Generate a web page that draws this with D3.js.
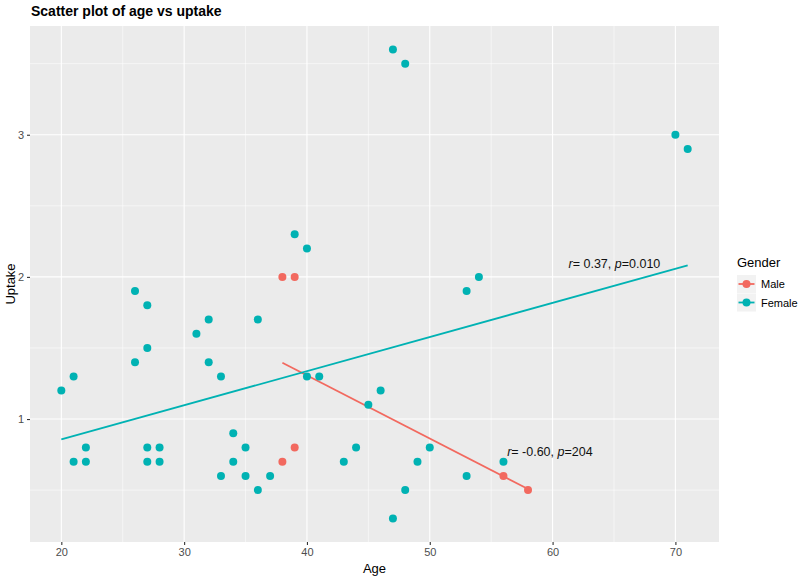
<!doctype html>
<html lang=en>
<head>
  <meta charset=utf-8>
  <title>Scatter plot of age vs uptake</title>
  <style>
    html, body { margin: 0; background: #fff; }
    body { font-family: "Liberation Sans", Arial, sans-serif; }
    .grid-major { stroke: #fff; stroke-width: 1.1; }
    .grid-minor { stroke: #fff; stroke-width: 0.55; }
    .tick-label { fill: #4d4d4d; font-size: 11px; }
    .fit { fill: none; stroke-width: 1.8; }
  </style>
  <script src="https://cdn.jsdelivr.net/npm/d3@7"></script>
</head>
<body>
<svg id=chart width=800 height=580></svg>
<script>
  // data
  const maleAge = [38, 39, 38, 39, 56, 58]
  const maleUptake = [2.0, 2.0, 0.7, 0.8, 0.6, 0.5]

  const femaleAge = [20, 21, 21, 22, 22, 26, 26, 27, 27, 27, 27, 28, 28, 31, 32, 32, 33, 33, 34, 34,
    35, 35, 36, 36, 37, 39, 40, 40, 41, 43, 44, 45, 46, 47, 48, 47, 48, 49, 50, 53, 54, 53, 56, 70, 71]
  const femaleUptake = [1.2, 1.3, 0.7, 0.8, 0.7, 1.9, 1.4, 1.8, 1.5, 0.8, 0.7, 0.8, 0.7, 1.6, 1.7, 1.4, 1.3, 0.6, 0.9, 0.7,
    0.8, 0.6, 1.7, 0.5, 0.6, 2.3, 2.2, 1.3, 1.3, 0.7, 0.8, 1.1, 1.2, 3.6, 3.5, 0.3, 0.5, 0.7, 0.8, 1.9, 2.0, 0.6, 0.7, 3.0, 2.9]

  const genders = ['Male', 'Female']
  const colors = ['#f2695f', '#00b2b3']
  const xTicks = [20, 30, 40, 50, 60, 70]
  const xMinor = [25, 35, 45, 55, 65]
  const yTicks = [1, 2, 3]
  const yMinor = [0.5, 1.5, 2.5, 3.5]
  const labels = [
    { r: '-0.60', p: '204', at: [56.3, 0.74] },
    { r: '0.37', p: '0.010', at: [61.3, 2.06] },
  ]

  const panel = { left: 30, top: 26, right: 719, bottom: 542 }

  const allAge = maleAge.concat(femaleAge)
  const allUptake = maleUptake.concat(femaleUptake)
  const pad = (lo, hi) => [lo - (hi - lo) * 0.05, hi + (hi - lo) * 0.05]

  const x = d3.scaleLinear()
    .domain(pad(d3.min(allAge), d3.max(allAge)))
    .range([panel.left, panel.right])
  const y = d3.scaleLinear()
    .domain(pad(d3.min(allUptake), d3.max(allUptake)))
    .range([panel.bottom, panel.top])

  const series = [
    { name: 'Male', color: colors[0], pts: maleAge.map((a, i) => [a, maleUptake[i]]) },
    { name: 'Female', color: colors[1], pts: femaleAge.map((a, i) => [a, femaleUptake[i]]) },
  ]

  function fit(pts) {
    const mx = d3.mean(pts, d => d[0])
    const my = d3.mean(pts, d => d[1])
    const sxy = d3.sum(pts, d => (d[0] - mx) * (d[1] - my))
    const sxx = d3.sum(pts, d => (d[0] - mx) ** 2)
    const b = sxy / sxx
    const [lo, hi] = d3.extent(pts, d => d[0])
    return [[lo, my + b * (lo - mx)], [hi, my + b * (hi - mx)]]
  }

  const svg = d3.select('#chart')

  svg.append('rect')
    .attr('x', panel.left).attr('y', panel.top)
    .attr('width', panel.right - panel.left).attr('height', panel.bottom - panel.top)
    .attr('fill', '#ebebeb')

  const grid = svg.append('g')
  grid.selectAll('.gxm').data(xMinor).enter().append('line')
    .attr('class', 'grid-minor')
    .attr('x1', d => x(d)).attr('x2', d => x(d))
    .attr('y1', panel.top).attr('y2', panel.bottom)
  grid.selectAll('.gym').data(yMinor).enter().append('line')
    .attr('class', 'grid-minor')
    .attr('y1', d => y(d)).attr('y2', d => y(d))
    .attr('x1', panel.left).attr('x2', panel.right)
  grid.selectAll('.gx').data(xTicks).enter().append('line')
    .attr('class', 'grid-major')
    .attr('x1', d => x(d)).attr('x2', d => x(d))
    .attr('y1', panel.top).attr('y2', panel.bottom)
  grid.selectAll('.gy').data(yTicks).enter().append('line')
    .attr('class', 'grid-major')
    .attr('y1', d => y(d)).attr('y2', d => y(d))
    .attr('x1', panel.left).attr('x2', panel.right)

  // axes
  const gx = svg.append('g')
    .attr('transform', 'translate(0,' + panel.bottom + ')')
    .call(d3.axisBottom(x).tickValues(xTicks).tickFormat(d3.format('d')).tickSize(3).tickPadding(3))
  const gy = svg.append('g')
    .attr('transform', 'translate(' + panel.left + ',0)')
    .call(d3.axisLeft(y).tickValues(yTicks).tickFormat(d3.format('d')).tickSize(3).tickPadding(3))
  for (const g of [gx, gy]) {
    g.select('.domain').remove()
    g.selectAll('.tick line').attr('stroke', '#333').attr('stroke-width', 1.1)
    g.selectAll('.tick text').attr('class', 'tick-label').attr('font-family', null).attr('font-size', null)
  }

  // fitted lines under points
  for (const s of series) {
    svg.append('path')
      .datum(fit(s.pts))
      .attr('class', 'fit')
      .attr('stroke', s.color)
      .attr('d', d3.line().x(d => x(d[0])).y(d => y(d[1])))
  }

  for (const s of series) {
    svg.append('g').selectAll('circle')
      .data(s.pts)
      .enter()
      .append('circle')
        .attr('cx', d => x(d[0]))
        .attr('cy', d => y(d[1]))
        .attr('r', 4)
        .attr('fill', s.color)
  }

  // correlation labels
  for (const l of labels) {
    const t = svg.append('text')
      .attr('x', x(l.at[0])).attr('y', y(l.at[1]))
      .attr('font-size', 12.5).attr('fill', '#111')
    t.append('tspan').attr('font-style', 'italic').text('r')
    t.append('tspan').text('= ' + l.r + ', ')
    t.append('tspan').attr('font-style', 'italic').text('p')
    t.append('tspan').text('=' + l.p)
  }

  // titles
  svg.append('text')
    .attr('x', 31).attr('y', 16)
    .attr('font-size', 14).attr('font-weight', 'bold')
    .text('Scatter plot of age vs uptake')
  svg.append('text')
    .attr('x', (panel.left + panel.right) / 2).attr('y', 573)
    .attr('text-anchor', 'middle').attr('font-size', 13)
    .text('Age')
  svg.append('text')
    .attr('transform', 'translate(15,' + (panel.top + panel.bottom) / 2 + ') rotate(-90)')
    .attr('text-anchor', 'middle').attr('font-size', 13)
    .text('Uptake')

  // legend
  const legend = svg.append('g').attr('transform', 'translate(737,0)')
  legend.append('text')
    .attr('x', 0).attr('y', 267)
    .attr('font-size', 13)
    .text('Gender')
  genders.forEach((name, i) => {
    const cy = 284 + i * 18.5
    legend.append('rect')
      .attr('x', 0).attr('y', cy - 9).attr('width', 19).attr('height', 18)
      .attr('fill', '#f2f2f2')
    legend.append('line')
      .attr('x1', 1.5).attr('x2', 17.5).attr('y1', cy).attr('y2', cy)
      .attr('stroke', colors[i]).attr('stroke-width', 1.8)
    legend.append('circle')
      .attr('cx', 9.5).attr('cy', cy).attr('r', 4)
      .attr('fill', colors[i])
    legend.append('text')
      .attr('x', 24).attr('y', cy + 4)
      .attr('font-size', 11)
      .text(name)
  })
</script>
</body>
</html>
